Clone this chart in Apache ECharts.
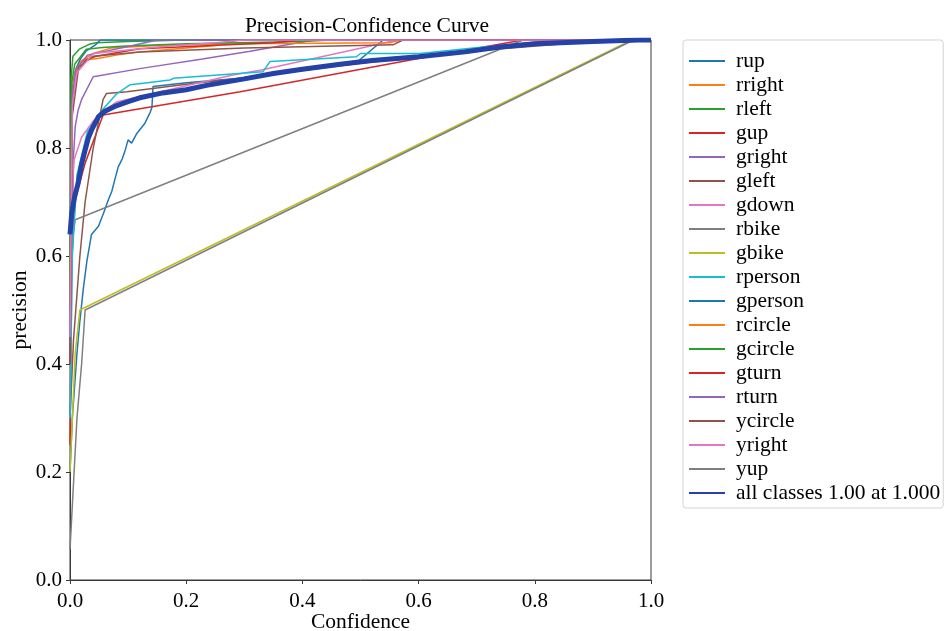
<!DOCTYPE html>
<html>
<head>
<meta charset="utf-8">
<script src="https://cdn.jsdelivr.net/npm/echarts@6/dist/echarts.min.js"></script>
<style>
  html, body { margin: 0; padding: 0; background: #fff; }
  #chart { width: 944px; height: 631px; }
</style>
</head>
<body>
<div id="chart"></div>
<script>
// per-class precision curves, [confidence, precision]
const rup = [[0,0.2],[0.004,0.3],[0.008,0.36],[0.012,0.42],[0.017,0.48],[0.023,0.54],[0.029,0.59],[0.037,0.64],[0.049,0.655],[0.058,0.68],[0.066,0.704],[0.072,0.72],[0.077,0.741],[0.083,0.765],[0.09,0.78],[0.095,0.796],[0.1,0.815],[0.106,0.809],[0.115,0.827],[0.129,0.846],[0.138,0.866],[0.141,0.875],[0.143,0.914],[0.2,0.921],[0.293,0.929],[0.4,0.947],[0.493,0.958],[0.539,1.0],[1,1]];
const rright = [[0,0.45],[0.003,0.86],[0.006,0.927],[0.016,0.958],[0.033,0.964],[0.05,0.966],[0.08,0.972],[0.12,0.978],[0.2,0.985],[0.25,0.99],[0.29,1.0],[1,1]];
const rleft = [[0,0.55],[0.002,0.93],[0.005,0.97],[0.016,0.983],[0.033,0.992],[0.045,0.995],[0.1,0.997],[0.2,1.0],[1,1]];
const gup = [[0,0.25],[0.002,0.45],[0.003,0.59],[0.009,0.704],[0.026,0.772],[0.057,0.861],[0.293,0.904],[0.602,0.966],[0.78,1],[1,1]];
const gright = [[0,0.4],[0.003,0.6],[0.006,0.784],[0.009,0.84],[0.014,0.87],[0.02,0.89],[0.04,0.932],[0.12,0.947],[0.228,0.965],[0.31,0.979],[0.42,1.0],[1,1]];
const gleft = [[0,0.3],[0.006,0.444],[0.017,0.6],[0.026,0.7],[0.04,0.8],[0.057,0.89],[0.063,0.901],[0.098,0.904],[0.2,0.918],[0.3,0.93],[0.5,0.957],[0.7,0.98],[0.9,0.997],[1,1]];
const gdown = [[0,0.4],[0.003,0.7],[0.007,0.778],[0.02,0.82],[0.04,0.85],[0.06,0.87],[0.08,0.885],[0.28,0.935],[0.327,0.944],[0.539,0.994],[0.56,1],[1,1]];
const rbike = [[0,0.6],[0.009,0.667],[0.78,1],[1,1]];
const gbike = [[0,0.2],[0.009,0.42],[0.017,0.5],[0.967,1],[1,1]];
const rperson = [[0,0.3],[0.004,0.6],[0.012,0.75],[0.03,0.83],[0.057,0.872],[0.08,0.9],[0.103,0.917],[0.126,0.92],[0.172,0.926],[0.178,0.929],[0.332,0.941],[0.344,0.96],[0.493,0.969],[0.5,0.975],[0.602,0.975],[0.694,0.985],[0.814,0.997],[0.83,1],[1,1]];
const gperson = [[0,0.5],[0.003,0.9],[0.006,0.921],[0.01,0.946],[0.018,0.965],[0.028,0.98],[0.045,0.992],[0.052,1.0],[1,1]];
const rcircle = [[0,0.5],[0.003,0.88],[0.008,0.94],[0.02,0.962],[0.04,0.975],[0.07,0.985],[0.15,0.99],[0.3,0.993],[0.55,0.995],[0.57,1],[1,1]];
const gcircle = [[0,0.5],[0.003,0.92],[0.008,0.955],[0.028,0.983],[0.056,0.986],[0.096,0.989],[0.2,0.993],[0.4,0.997],[0.45,1],[1,1]];
const gturn = [[0,0.4],[0.004,0.88],[0.012,0.94],[0.028,0.964],[0.045,0.97],[0.12,0.984],[0.35,0.995],[0.4,1],[1,1]];
const rturn = [[0,0.45],[0.004,0.9],[0.01,0.945],[0.03,0.972],[0.1,0.988],[0.15,1.0],[1,1]];
const ycircle = [[0,0.4],[0.004,0.86],[0.015,0.95],[0.04,0.97],[0.12,0.978],[0.3,0.985],[0.556,0.991],[0.573,1],[1,1]];
const yright = [[0,0.45],[0.004,0.88],[0.012,0.94],[0.04,0.975],[0.15,0.987],[0.25,0.995],[0.3,1],[1,1]];
const yup = [[0,0.056],[0.012,0.3],[0.02,0.4],[0.026,0.5],[0.97,1],[1,1]];
// mean over classes
const allClasses = [[0,0.64],[0.003,0.68],[0.008,0.71],[0.014,0.735],[0.02,0.77],[0.026,0.796],[0.032,0.82],[0.037,0.833],[0.049,0.858],[0.06,0.868],[0.077,0.877],[0.1,0.886],[0.12,0.893],[0.16,0.902],[0.2,0.908],[0.235,0.916],[0.3,0.928],[0.35,0.938],[0.4,0.946],[0.465,0.955],[0.52,0.962],[0.6,0.969],[0.68,0.978],[0.74,0.987],[0.8,0.993],[0.9,0.997],[0.98,1.0],[1,1]];

const classNames = ['rup','rright','rleft','gup','gright','gleft','gdown','rbike','gbike','rperson','gperson','rcircle','gcircle','gturn','rturn','ycircle','yright','yup'];
const classCurves = [rup,rright,rleft,gup,gright,gleft,gdown,rbike,gbike,rperson,gperson,rcircle,gcircle,gturn,rturn,ycircle,yright,yup];
const allName = 'all classes 1.00 at 1.000';

const tab10 = ['#1f77b4','#ff7f0e','#2ca02c','#d62728','#9467bd','#8c564b','#e377c2','#7f7f7f','#bcbd22','#17becf'];
const FONT = 'Liberation Serif';

const series = classCurves.map((d, i) => ({
  name: classNames[i],
  type: 'line',
  data: d,
  symbol: 'none',
  color: tab10[i % 10],
  lineStyle: { width: 1.5, color: tab10[i % 10] },
  animation: false
}));
series.push({
  name: allName,
  type: 'line',
  data: allClasses,
  symbol: 'none',
  color: '#2442a8',
  lineStyle: { width: 5, color: '#2442a8' },
  animation: false
});

const chart = echarts.init(document.getElementById('chart'), null, { renderer: 'canvas' });
chart.setOption({
  backgroundColor: '#fff',
  animation: false,
  textStyle: { fontFamily: FONT },
  title: {
    text: 'Precision-Confidence Curve',
    left: 362,
    textAlign: 'center',
    top: 10,
    textStyle: { fontFamily: FONT, fontSize: 21.5, fontWeight: 'normal', color: '#000' }
  },
  grid: {
    left: 70, top: 40, width: 581, height: 540,
    outerBoundsMode: 'none',
    containLabel: false,
    show: true, borderColor: '#3a3a3a', borderWidth: 1, backgroundColor: 'transparent'
  },
  legend: {
    orient: 'vertical',
    left: 683, top: 40,
    padding: [10, 3, 4, 5],
    itemWidth: 36, itemHeight: 14, itemGap: 2,
    borderColor: '#d4d4d4', borderWidth: 1, borderRadius: 3,
    backgroundColor: '#fff',
    selectedMode: false,
    itemStyle: { opacity: 0 },
    textStyle: { fontFamily: FONT, fontSize: 21.5, color: '#000', padding: [0, 0, 0, 6] },
    data: classNames.concat([allName])
  },
  xAxis: {
    type: 'value', min: 0, max: 1, interval: 0.2,
    name: 'Confidence', nameLocation: 'middle', nameGap: 31, nameMoveOverlap: false,
    nameTextStyle: { fontFamily: FONT, fontSize: 21.5, color: '#000' },
    axisLine: { show: true, lineStyle: { color: '#3a3a3a', width: 1 } },
    axisTick: { show: true, length: 4, lineStyle: { color: '#3a3a3a' } },
    axisLabel: { fontFamily: FONT, fontSize: 21, color: '#000', margin: 11, formatter: v => v.toFixed(1) },
    splitLine: { show: false }
  },
  yAxis: {
    type: 'value', min: 0, max: 1, interval: 0.2,
    name: 'precision', nameLocation: 'middle', nameGap: 39, nameMoveOverlap: false,
    nameTextStyle: { fontFamily: FONT, fontSize: 21.5, color: '#000' },
    axisLine: { show: true, lineStyle: { color: '#3a3a3a', width: 1 } },
    axisTick: { show: true, length: 4, lineStyle: { color: '#3a3a3a' } },
    axisLabel: { fontFamily: FONT, fontSize: 21, color: '#000', margin: 8, formatter: v => v.toFixed(1) },
    splitLine: { show: false }
  },
  series: series
});
</script>
</body>
</html>
